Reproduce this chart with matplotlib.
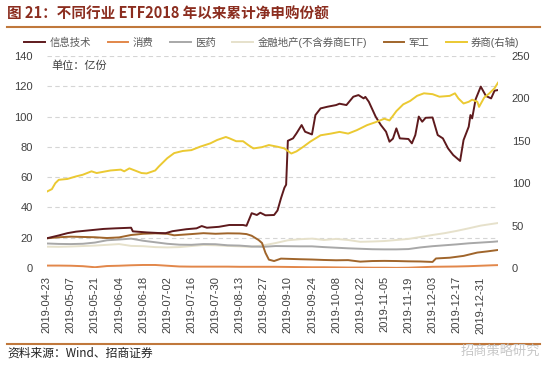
import matplotlib
matplotlib.use("Agg")
import matplotlib.pyplot as plt
from matplotlib.lines import Line2D
import pandas as pd

plt.rcParams['font.family'] = ['Liberation Sans', 'Noto Sans CJK SC', 'DejaVu Sans']

# ---------------- data ----------------
it_dates = ['2019-04-23','2019-04-30','2019-05-05','2019-05-10','2019-05-18','2019-05-26','2019-06-02',
            '2019-06-11','2019-06-12','2019-06-20','2019-06-27','2019-07-01','2019-07-05','2019-07-13',
            '2019-07-19','2019-07-22','2019-07-25','2019-08-01','2019-08-07','2019-08-15','2019-08-17',
            '2019-08-20','2019-08-23','2019-08-25','2019-08-28','2019-09-02','2019-09-04','2019-09-06',
            '2019-09-08','2019-09-09','2019-09-10','2019-09-13','2019-09-15','2019-09-18','2019-09-20',
            '2019-09-24','2019-09-26','2019-09-29','2019-10-03','2019-10-08','2019-10-10','2019-10-14',
            '2019-10-18','2019-10-21','2019-10-24','2019-10-25','2019-10-27','2019-10-31','2019-11-03',
            '2019-11-06','2019-11-08','2019-11-10','2019-11-12','2019-11-14','2019-11-19','2019-11-21',
            '2019-11-23','2019-11-25','2019-11-27','2019-11-29','2019-12-03','2019-12-06','2019-12-09',
            '2019-12-12','2019-12-15','2019-12-19','2019-12-21','2019-12-24','2019-12-25','2019-12-26',
            '2019-12-28','2019-12-31','2020-01-03','2020-01-06','2020-01-08','2020-01-10']
it_vals = [19.6, 21.5, 23.0, 24.0, 24.9, 25.8, 26.2,
           26.6, 24.2, 23.5, 23.1, 23.0, 24.3, 25.6,
           26.2, 27.7, 26.6, 27.2, 28.4, 28.4, 27.9,
           36.2, 35.0, 36.5, 34.8, 35.0, 38.0, 46.0,
           53.0, 55.0, 84.0, 85.6, 88.9, 94.4, 90.0,
           88.2, 101.0, 105.4, 106.5, 107.6, 108.5, 107.6,
           113.1, 114.2, 112.0, 113.0, 109.8, 99.9, 94.4,
           90.0, 83.4, 85.4, 92.2, 85.6, 85.2, 82.3,
           87.8, 100.0, 96.6, 99.2, 99.4, 87.8, 85.6,
           79.0, 74.6, 70.7, 84.5, 93.3, 101.0, 98.8,
           111.4, 119.8, 113.6, 112.0, 117.1, 117.5]

qs_dates = ['2019-04-23','2019-04-26','2019-04-28','2019-04-30','2019-05-05','2019-05-10','2019-05-14',
            '2019-05-19','2019-05-22','2019-05-30','2019-06-05','2019-06-07','2019-06-10','2019-06-17',
            '2019-06-20','2019-06-25','2019-06-27','2019-07-02','2019-07-06','2019-07-11','2019-07-16',
            '2019-07-21','2019-07-27','2019-07-31','2019-08-05','2019-08-07','2019-08-11','2019-08-15',
            '2019-08-18','2019-08-21','2019-08-26','2019-08-30','2019-09-04','2019-09-08','2019-09-12',
            '2019-09-15','2019-09-19','2019-09-23','2019-09-29','2019-10-05','2019-10-10','2019-10-15',
            '2019-10-20','2019-10-26','2019-10-31','2019-11-05','2019-11-08','2019-11-12','2019-11-16',
            '2019-11-20','2019-11-24','2019-11-28','2019-12-03','2019-12-07','2019-12-13','2019-12-16',
            '2019-12-18','2019-12-21','2019-12-24','2019-12-26','2019-12-29','2019-12-30','2020-01-02',
            '2020-01-05','2020-01-08','2020-01-10']
qs_vals = [90, 93, 100, 104, 105, 108, 110,
           114, 112, 115, 116, 114, 117.5, 112,
           111.5, 115, 119.5, 129.5, 135.5, 138, 139,
           143, 147, 151, 154.5, 153, 149.5, 149.5,
           145, 141, 142.5, 145, 143, 141, 135,
           137.5, 143, 149, 156.5, 158.5, 160.5, 158.5,
           162.5, 168.5, 172, 176, 174, 185, 193,
           197, 203, 206, 205, 202, 203, 206,
           200, 194, 196, 198.5, 196, 190, 201,
           206, 212, 218.5]

wk_dates = ['2019-04-23','2019-04-30','2019-05-07','2019-05-14','2019-05-21','2019-05-28','2019-06-04',
            '2019-06-11','2019-06-18','2019-06-25','2019-07-02','2019-07-09','2019-07-16','2019-07-23',
            '2019-07-30','2019-08-06','2019-08-13','2019-08-20','2019-08-27','2019-09-03','2019-09-10',
            '2019-09-17','2019-09-24','2019-10-01','2019-10-08','2019-10-15','2019-10-22','2019-10-29',
            '2019-11-05','2019-11-12','2019-11-19','2019-11-26','2019-12-03','2019-12-10','2019-12-17',
            '2019-12-24','2019-12-31','2020-01-07','2020-01-10']
xf_vals = [1.6, 1.6, 1.5, 1.2, 0.5, 1.3, 1.5,
           1.8, 2.0, 2.0, 1.5, 1.0, 0.9, 0.9,
           0.9, 0.9, 0.8, 0.8, 0.8, 0.8, 0.7,
           0.6, 0.5, 0.5, 0.4, 0.3, 0.3, 0.2,
           0.2, 0.1, 0.2, 0.5, 0.8, 0.9, 1.0,
           1.2, 1.5, 1.8, 1.9]
yy_vals = [16.2, 15.9, 15.8, 16.0, 16.8, 18.3, 18.8,
           19.4, 18.0, 17.0, 16.0, 15.4, 15.3, 15.8,
           15.7, 15.0, 14.8, 14.2, 14.0, 14.5, 14.4,
           14.3, 14.3, 13.8, 13.4, 13.0, 12.7, 12.4,
           12.3, 12.3, 12.5, 13.6, 14.4, 15.0, 15.6,
           16.3, 16.8, 17.3, 17.6]
jr_vals = [14.1, 14.0, 14.2, 14.5, 14.8, 15.3, 15.8,
           14.6, 14.4, 13.8, 13.6, 13.8, 14.5, 15.2,
           15.0, 14.6, 14.3, 14.0, 15.0, 16.5, 18.3,
           19.0, 19.4, 18.5, 19.2, 18.5, 17.3, 17.5,
           17.8, 18.5, 19.2, 20.5, 21.8, 23.0, 24.5,
           26.2, 28.0, 29.2, 29.7]

jg_dates = ['2019-04-23','2019-04-30','2019-05-07','2019-05-14','2019-05-21','2019-05-28','2019-06-04',
            '2019-06-11','2019-06-18','2019-06-25','2019-07-02','2019-07-06','2019-07-16','2019-07-23',
            '2019-07-30','2019-08-06','2019-08-13','2019-08-17','2019-08-20','2019-08-24','2019-08-26',
            '2019-08-28','2019-08-30','2019-09-02','2019-09-06','2019-09-17','2019-09-24','2019-10-01',
            '2019-10-08','2019-10-15','2019-10-22','2019-10-29','2019-11-05','2019-11-12','2019-11-19',
            '2019-11-26','2019-12-03','2019-12-05','2019-12-13','2019-12-21','2019-12-29','2020-01-04',
            '2020-01-10']
jg_vals = [19.6, 20.3, 20.7, 20.5, 20.3, 19.8, 20.2,
           21.8, 22.6, 22.9, 22.6, 21.6, 22.4, 23.0,
           22.6, 22.9, 22.8, 22.4, 21.3, 18.5, 16.5,
           10.0, 5.5, 4.6, 6.2, 5.8, 5.6, 5.3,
           5.1, 5.2, 4.2, 4.6, 4.7, 4.6, 4.4,
           4.3, 4.0, 6.3, 6.8, 8.0, 10.2, 11.0,
           11.9]

tick_labels = ['2019-04-23','2019-05-07','2019-05-21','2019-06-04','2019-06-18','2019-07-02',
               '2019-07-16','2019-07-30','2019-08-13','2019-08-27','2019-09-10','2019-09-24',
               '2019-10-08','2019-10-22','2019-11-05','2019-11-19','2019-12-03','2019-12-17',
               '2019-12-31']
left_ticks = [0, 20, 40, 60, 80, 100, 120, 140]
right_ticks = [0, 50, 100, 150, 200, 250]

names = ['信息技术', '消费', '医药', '金融地产(不含券商ETF)', '军工', '券商(右轴)']
colors = ['#5E1A1D', '#E2874A', '#A8A8A8', '#E6E1CB', '#A0652B', '#EBC932']

# ---------------- figure ----------------
W, H = 550, 365
fig = plt.figure(figsize=(W / 100, H / 100), dpi=100)
fig.patch.set_facecolor('white')
ax = fig.add_axes([46.7 / W, 1 - 268 / H, (498 - 46.7) / W, (268 - 56) / H])
ax2 = ax.twinx()

lw = 1.4
ax.plot(pd.to_datetime(wk_dates), jr_vals, color=colors[3], lw=lw)
ax.plot(pd.to_datetime(wk_dates), yy_vals, color=colors[2], lw=lw)
ax.plot(pd.to_datetime(wk_dates), xf_vals, color=colors[1], lw=lw)
ax.plot(pd.to_datetime(jg_dates), jg_vals, color=colors[4], lw=lw)
ax.plot(pd.to_datetime(it_dates), it_vals, color=colors[0], lw=lw)
ax2.plot(pd.to_datetime(qs_dates), qs_vals, color=colors[5], lw=lw)

ax.set_ylim(0, 140)
ax2.set_ylim(0, 250)
ax.set_yticks(left_ticks)
ax2.set_yticks(right_ticks)
ax.set_xlim(pd.Timestamp('2019-04-23'), pd.Timestamp('2020-01-10'))
ax.set_xticks(pd.to_datetime(tick_labels))
ax.set_xticklabels(tick_labels, rotation=90)

for a in (ax, ax2):
    for s in ('top', 'left', 'right'):
        a.spines[s].set_visible(False)
    a.spines['bottom'].set_visible(False)
    a.tick_params(length=0, labelsize=8, labelcolor='#404040')
ax.tick_params(axis='y', pad=10)
ax2.tick_params(axis='y', pad=10)
ax.tick_params(axis='x', pad=6)
for v in left_ticks[1:]:
    ax.axhline(v, color='#D5D5D5', lw=0.8, ls=(0, (4, 3)), zorder=0)
ax.axhline(0, color='#D9D9D9', lw=0.8, zorder=0)

ax.text(0.01, 0.955, '单位：亿份', transform=ax.transAxes, fontsize=8,
        color='#404040', va='center', ha='left', family=['Noto Sans CJK SC'])

# legend
handles = [Line2D([], [], color=c, lw=1.4) for c in colors]
leg = fig.legend(handles, names, loc='center', bbox_to_anchor=(272 / W, 1 - 42 / H), ncol=6,
                 frameon=False, fontsize=7.5, handlelength=2.0, handletextpad=0.4,
                 columnspacing=1.6, borderaxespad=0)
for t in leg.get_texts():
    t.set_color('#595959')

# title & footer
fig.text(7 / W, 1 - 14 / H, '图 21：不同行业 ETF2018 年以来累计净申购份额', fontsize=10.5,
         weight='bold', color='#8B2D1F', va='center', ha='left',
         family=['Noto Sans CJK SC', 'DejaVu Sans'])
fig.add_artist(Line2D([7 / W, 540 / W], [1 - 27 / H, 1 - 27 / H], transform=fig.transFigure,
                      color='#C0783C', lw=1.5))
fig.add_artist(Line2D([7 / W, 540 / W], [1 - 344 / H, 1 - 344 / H], transform=fig.transFigure,
                      color='#C0783C', lw=1.5))
fig.text(7 / W, 1 - 353 / H, '资料来源：Wind、招商证券', fontsize=8.5, color='#222222',
         va='center', ha='left', family=['Noto Sans CJK SC', 'DejaVu Sans'])
fig.text(540 / W, 1 - 352 / H, '招商策略研究', fontsize=9.5, color='#C8C8C8',
         va='center', ha='right', family=['Noto Sans CJK SC'])

fig.savefig('out.png', dpi=100, facecolor='white')
